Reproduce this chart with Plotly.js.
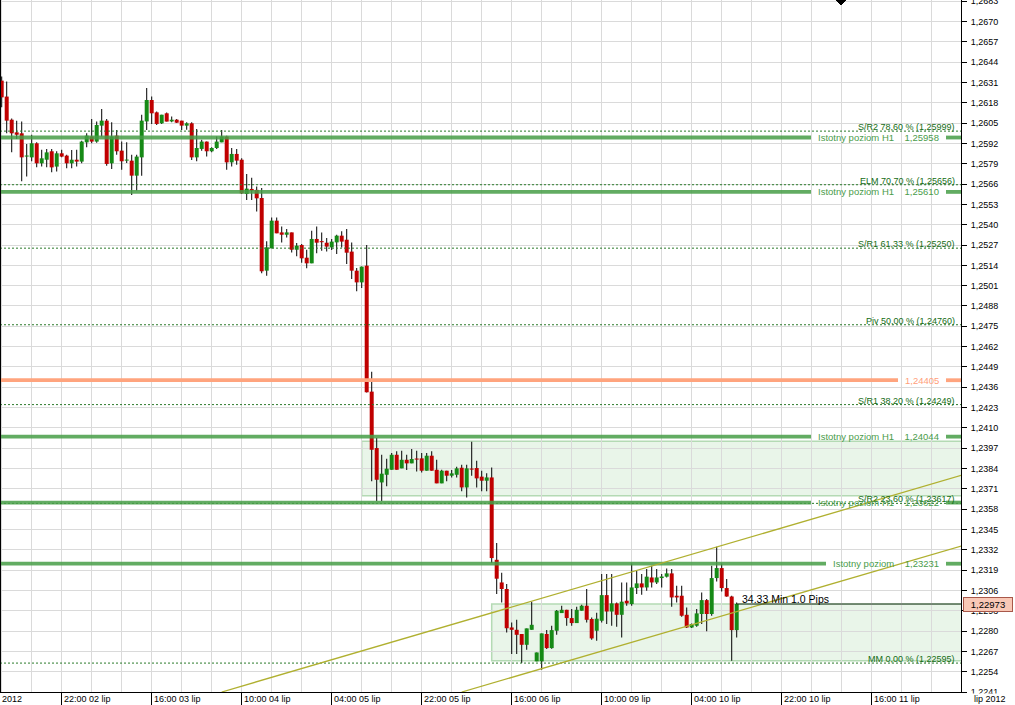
<!DOCTYPE html>
<html><head><meta charset="utf-8">
<script src="https://cdn.plot.ly/plotly-3.0.1.min.js"></script>
<style>html,body{margin:0;padding:0;background:#fff;overflow:hidden}#chart{width:1015px;height:705px}</style>
</head><body><div id="chart"></div>
<script>
// EUR/USD H1 candles (index 0 = 10:00 02 lip)
const opens = [1.26322,1.26220,1.26072,1.25991,1.25985,1.25836,1.25831,1.25921,1.25793,1.25816,1.25870,1.25772,1.25857,1.25842,1.25793,1.25816,1.25804,1.25927,1.25964,1.25932,
1.26034,1.26066,1.25793,1.25970,1.25874,1.25810,1.25810,1.25714,1.25831,1.26061,1.26198,1.26119,1.26049,1.26113,1.26061,1.26072,1.26066,1.26034,1.26049,1.25831,
1.25885,1.25932,1.25870,1.25891,1.25927,1.25964,1.25799,1.25853,1.25816,1.25597,1.25629,1.25623,1.25571,1.25106,1.25249,1.25426,1.25351,1.25336,1.25351,1.25240,
1.25270,1.25189,1.25153,1.25309,1.25292,1.25285,1.25255,1.25287,1.25330,1.25304,1.25228,1.25106,1.25031,1.25138,1.24332,1.23971,1.23751,1.23800,1.23832,1.23928,
1.23841,1.23896,1.23873,1.23901,1.23905,1.23826,1.23922,1.23832,1.23745,1.23826,1.23794,1.23800,1.23845,1.23719,1.23837,1.23843,1.23788,1.23762,1.23783,1.23256,
1.23111,1.23069,1.22823,1.22808,1.22781,1.22712,1.22808,1.22606,1.22606,1.22781,1.22691,1.22802,1.22915,1.22936,1.22883,1.22851,1.22930,1.22962,1.22877,1.22802,
1.22866,1.23030,1.22925,1.22977,1.22904,1.22994,1.22973,1.23075,1.23105,1.23079,1.23143,1.23111,1.23139,1.23148,1.23169,1.23026,1.23026,1.22904,1.22823,1.22834,
1.22909,1.22998,1.22909,1.23139,1.23203,1.23075,1.23021,1.22806];
const highs = [1.26348,1.26316,1.26080,1.26066,1.26060,1.25917,1.25976,1.25927,1.25880,1.25885,1.25885,1.25870,1.25880,1.25848,1.25878,1.25880,1.25938,1.25985,1.26077,1.26060,
1.26141,1.26077,1.26055,1.26006,1.25932,1.25927,1.25848,1.25848,1.26104,1.26275,1.26220,1.26125,1.26104,1.26118,1.26092,1.26077,1.26066,1.26055,1.26055,1.26013,
1.25943,1.25932,1.25895,1.25964,1.26006,1.25970,1.25891,1.25885,1.25825,1.25725,1.25701,1.25644,1.25635,1.25294,1.25447,1.25447,1.25388,1.25373,1.25351,1.25283,
1.25277,1.25240,1.25362,1.25388,1.25351,1.25315,1.25309,1.25336,1.25358,1.25373,1.25287,1.25123,1.25132,1.25271,1.24460,1.24035,1.23928,1.23903,1.23939,1.23950,
1.23954,1.23928,1.23965,1.23954,1.23939,1.23939,1.23950,1.23896,1.23832,1.23826,1.23830,1.23852,1.23864,1.23864,1.24012,1.23890,1.23826,1.23809,1.23847,1.23363,
1.23173,1.23101,1.22855,1.22872,1.22781,1.22817,1.22988,1.22663,1.22785,1.22806,1.22834,1.22934,1.22962,1.22936,1.22941,1.22956,1.22968,1.23069,1.22887,1.22917,
1.23165,1.23165,1.23165,1.22983,1.23111,1.23111,1.23233,1.23186,1.23165,1.23197,1.23218,1.23197,1.23165,1.23201,1.23197,1.23090,1.23090,1.22951,1.22849,1.22941,
1.23047,1.23005,1.23218,1.23340,1.23233,1.23133,1.23026,1.22983];
const lows = [1.26151,1.25985,1.25863,1.25949,1.25678,1.25708,1.25806,1.25767,1.25772,1.25767,1.25735,1.25741,1.25831,1.25761,1.25761,1.25772,1.25793,1.25895,1.25921,1.25925,
1.25964,1.25778,1.25757,1.25848,1.25752,1.25795,1.25590,1.25618,1.25714,1.26006,1.26045,1.26038,1.26045,1.26060,1.26055,1.26051,1.26006,1.26008,1.25814,1.25806,
1.25874,1.25836,1.25863,1.25885,1.25927,1.25751,1.25772,1.25784,1.25596,1.25558,1.25558,1.25484,1.25089,1.25074,1.25249,1.25345,1.25287,1.25319,1.25223,1.25198,
1.25157,1.25121,1.25153,1.25217,1.25234,1.25229,1.25238,1.25213,1.25255,1.25149,1.25053,1.24974,1.24995,1.24327,1.23758,1.23632,1.23632,1.23726,1.23832,1.23832,
1.23841,1.23830,1.23873,1.23821,1.23815,1.23826,1.23826,1.23745,1.23745,1.23758,1.23783,1.23783,1.23694,1.23655,1.23794,1.23719,1.23694,1.23694,1.23235,1.23037,
1.22983,1.22791,1.22653,1.22653,1.22595,1.22680,1.22808,1.22606,1.22552,1.22685,1.22687,1.22776,1.22915,1.22834,1.22834,1.22851,1.22930,1.22855,1.22744,1.22738,
1.22855,1.22845,1.22834,1.22828,1.22759,1.22962,1.22962,1.23037,1.23032,1.23058,1.23079,1.23101,1.23079,1.23143,1.22956,1.22983,1.22892,1.22819,1.22819,1.22828,
1.22845,1.22798,1.22898,1.23117,1.23053,1.23019,1.22610,1.22759];
const closes = [1.26215,1.26066,1.25985,1.25976,1.25831,1.25840,1.25921,1.25793,1.25825,1.25863,1.25767,1.25857,1.25836,1.25793,1.25816,1.25804,1.25932,1.25970,1.25932,1.26038,
1.26066,1.25789,1.25964,1.25870,1.25806,1.25814,1.25714,1.25836,1.26066,1.26198,1.26113,1.26045,1.26104,1.26060,1.26072,1.26053,1.26034,1.26049,1.25831,1.25891,
1.25932,1.25870,1.25891,1.25932,1.25964,1.25799,1.25853,1.25810,1.25601,1.25631,1.25618,1.25569,1.25102,1.25255,1.25426,1.25345,1.25336,1.25351,1.25240,1.25266,
1.25185,1.25153,1.25309,1.25285,1.25288,1.25260,1.25292,1.25330,1.25292,1.25221,1.25106,1.25031,1.25132,1.24328,1.23960,1.23768,1.23807,1.23839,1.23928,1.23832,
1.23896,1.23873,1.23901,1.23897,1.23826,1.23922,1.23826,1.23745,1.23826,1.23794,1.23809,1.23841,1.23719,1.23841,1.23833,1.23777,1.23762,1.23783,1.23267,1.23135,
1.23069,1.22818,1.22808,1.22776,1.22712,1.22817,1.22840,1.22663,1.22785,1.22691,1.22806,1.22930,1.22936,1.22883,1.22851,1.22936,1.22962,1.22872,1.22753,1.22879,
1.23030,1.22925,1.22977,1.22904,1.22988,1.22977,1.23079,1.23105,1.23079,1.23148,1.23111,1.23143,1.23149,1.23169,1.23015,1.23015,1.22898,1.22823,1.22845,1.22913,
1.22998,1.22909,1.23139,1.23203,1.23075,1.23021,1.22806,1.22973];

// time axis labels (candle index -> label)
const xLabelPos  = [12, 30, 48, 66, 84, 102, 120, 138, 156, 174];
const xLabelText = ['22:00 02 lip','16:00 03 lip','10:00 04 lip','04:00 05 lip','22:00 05 lip','16:00 06 lip','10:00 09 lip','04:00 10 lip','22:00 10 lip','16:00 11 lip'];

// Fibonacci levels
const fibNames  = ['S/R2 78,60 %','ELM 70,70 %','S/R1 61,33 %','Piv 50,00 %','S/R1 38,20 %','S/R2 23,60 %','MM 0,00 %'];
const fibLevels = [1.25999, 1.25656, 1.25250, 1.24760, 1.24249, 1.23617, 1.22595];
// key levels
const keyNames  = ['Istotny poziom H1','Istotny poziom H1','Istotny poziom H1','Istotny poziom H1','Istotny poziom'];
const keyLevels = [1.25958, 1.25610, 1.24044, 1.23622, 1.23231];
const pivotLevel = 1.24405;
const lastPrice = 1.22973;
const rangeInfo = '34.33 Min 1.0 Pips';
// consolidation zones: start index, top, bottom
const zoneStart  = [72, 98];
const zoneTop    = [1.24014, 1.22973];
const zoneBottom = [1.23666, 1.22610];
// trend channel: anchor points (index, price)
const chanX = [44, 192];
const chanUpper = [1.2241, 1.23797];
const chanLowerX = [92, 192];
const chanLower = [1.2241, 1.23345];

const fmt = v => v.toFixed(5).replace('.', ',');
const NB = '\u00a0';
const FONT = 'Liberation Sans, Arial, sans-serif';

const idx = opens.map((_, i) => i);
const bodyBase = opens.map((o, i) => Math.min(o, closes[i]));
const bodyH = opens.map((o, i) => Math.max(Math.abs(closes[i] - o), 0.00007));
const bodyCol = opens.map((o, i) => closes[i] >= o ? '#168a16' : '#c00000');

const traces = [
  {type: 'bar', x: idx, base: lows, y: highs.map((h, i) => h - lows[i]), width: 0.2,
   marker: {color: '#000', line: {width: 0}}, hoverinfo: 'skip', showlegend: false},
  {type: 'bar', x: idx, base: bodyBase, y: bodyH, width: 0.8,
   marker: {color: bodyCol, line: {width: 0}}, hoverinfo: 'skip', showlegend: false}
];

const PW = 961; // plot width in px for paper conversions
const shapes = [];
const annotations = [];
const GREEN = 'rgba(70,158,70,0.85)';

zoneStart.forEach((s, k) => {
  shapes.push({type: 'rect', xref: 'x', yref: 'y', x0: s, x1: 200, y0: zoneBottom[k], y1: zoneTop[k],
    fillcolor: 'rgba(212,236,212,0.5)', line: {color: '#b4dab4', width: 1.5}, layer: 'below'});
});

fibLevels.forEach((v, k) => {
  shapes.push({type: 'line', xref: 'paper', yref: 'y', x0: 0, x1: 1, y0: v, y1: v,
    line: {color: '#2a7a2a', width: 1, dash: '2px,2px'}, layer: 'above'});
  annotations.push({xref: 'paper', yref: 'y', x: 957 / PW, y: v, xanchor: 'right', yanchor: 'bottom',
    text: fibNames[k] + ' (' + fmt(v) + ')', showarrow: false, yshift: -3,
    font: {family: FONT, size: 9, color: '#146c14'}});
});

keyLevels.forEach((v, k) => {
  const cut = keyNames[k] === 'Istotny poziom' ? 826 : 811;
  shapes.push({type: 'line', xref: 'paper', yref: 'y', x0: 0, x1: cut / PW, y0: v, y1: v,
    line: {color: GREEN, width: 3.8}, layer: 'above'});
  shapes.push({type: 'line', xref: 'paper', yref: 'y', x0: 946 / PW, x1: 1, y0: v, y1: v,
    line: {color: GREEN, width: 3.8}, layer: 'above'});
  annotations.push({xref: 'paper', yref: 'y', x: 941 / PW, y: v, xanchor: 'right', yanchor: 'middle',
    text: keyNames[k] + NB + NB + NB + NB + fmt(v), showarrow: false,
    font: {family: FONT, size: 9.5, color: '#4a9c4a'}});
});

shapes.push({type: 'line', xref: 'paper', yref: 'y', x0: 0, x1: 898 / PW, y0: pivotLevel, y1: pivotLevel,
  line: {color: '#ffa47e', width: 3.8}, layer: 'above'});
shapes.push({type: 'line', xref: 'paper', yref: 'y', x0: 946 / PW, x1: 1, y0: pivotLevel, y1: pivotLevel,
  line: {color: '#ffa47e', width: 3.8}, layer: 'above'});
annotations.push({xref: 'paper', yref: 'y', x: 941 / PW, y: pivotLevel, xanchor: 'right', yanchor: 'middle',
  text: fmt(pivotLevel), showarrow: false, font: {family: FONT, size: 9.5, color: '#ffa07a'}});

shapes.push({type: 'line', xref: 'x', yref: 'y', x0: chanX[0], x1: chanX[1], y0: chanUpper[0], y1: chanUpper[1],
  line: {color: '#b0b030', width: 1.3}, layer: 'above'});
shapes.push({type: 'line', xref: 'x', yref: 'y', x0: chanLowerX[0], x1: chanLowerX[1], y0: chanLower[0], y1: chanLower[1],
  line: {color: '#b0b030', width: 1.3}, layer: 'above'});

const lastI = opens.length - 1;
shapes.push({type: 'line', xref: 'x', yref: 'y', x0: lastI, x1: 200, y0: lastPrice, y1: lastPrice,
  line: {color: '#1f331f', width: 1}, layer: 'above'});
annotations.push({xref: 'x', yref: 'y', x: lastI + 0.6, y: lastPrice, xanchor: 'left', yanchor: 'bottom',
  text: rangeInfo, showarrow: false, yshift: -3, font: {family: FONT, size: 10.5, color: '#000'}});
annotations.push({xref: 'paper', yref: 'y', x: 963 / PW, y: lastPrice, xanchor: 'left', yanchor: 'middle',
  text: fmt(lastPrice), showarrow: false, bgcolor: '#f9c8b6', bordercolor: '#a8584a', borderwidth: 1,
  borderpad: 1, width: 46, font: {family: FONT, size: 9.5, color: '#000'}});

// left border and top marker
shapes.push({type: 'line', xref: 'paper', yref: 'paper', x0: 0.5 / PW, x1: 0.5 / PW, y0: 0, y1: 1,
  line: {color: '#000', width: 1}});
shapes.push({type: 'path', xref: 'paper', yref: 'paper',
  path: 'M ' + (836 / PW) + ' 1 L ' + (846 / PW) + ' 1 L ' + (841 / PW) + ' ' + (1 - 5 / 692) + ' Z',
  fillcolor: '#000', line: {color: '#000', width: 1}});

// time labels
annotations.push({xref: 'x', yref: 'paper', x: 0, y: 0, xanchor: 'left', yanchor: 'top', xshift: -2,
  text: '2012', showarrow: false, font: {family: FONT, size: 9, color: '#000'}});
xLabelPos.forEach((p, k) => {
  annotations.push({xref: 'x', yref: 'paper', x: p, y: 0, xanchor: 'left', yanchor: 'top', xshift: 0,
    text: xLabelText[k], showarrow: false, font: {family: FONT, size: 9, color: '#000'}});
});
annotations.push({xref: 'paper', yref: 'paper', x: 968 / PW, y: 0, xanchor: 'left', yanchor: 'top', yshift: -1,
  text: NB + NB + 'lip 2012' + NB + NB, showarrow: false, bgcolor: '#fff', borderpad: 0,
  font: {family: FONT, size: 9, color: '#000'}});

const layout = {
  width: 1015, height: 705,
  margin: {l: 0, r: 54, t: 0, b: 13, pad: 0},
  paper_bgcolor: '#fff', plot_bgcolor: '#fff',
  separators: ', ',
  barmode: 'overlay',
  hovermode: false,
  showlegend: false,
  font: {family: FONT, size: 9, color: '#000'},
  xaxis: {
    range: [-0.34, 191.86], tickmode: 'array', tickvals: xLabelPos,
    showticklabels: false, ticks: 'outside', ticklen: 13, tickcolor: '#000', tickwidth: 1,
    showgrid: true, gridcolor: '#dadada', gridwidth: 1, zeroline: false,
    showline: true, linecolor: '#000', linewidth: 1,
    minor: {tick0: 0, dtick: 6, showgrid: true, gridcolor: '#dadada', gridwidth: 1, ticks: ''},
    fixedrange: true
  },
  yaxis: {
    side: 'right', range: [1.2241, 1.26838], tick0: 1.2241, dtick: 0.0013, tickformat: '.4f',
    ticks: 'outside', ticklen: 5, tickcolor: '#000', tickwidth: 1, ticklabelstandoff: 2,
    ticklabeloverflow: 'allow',
    showgrid: true, gridcolor: '#dadada', gridwidth: 1, zeroline: false,
    showline: true, linecolor: '#000', linewidth: 1,
    tickfont: {family: FONT, size: 9, color: '#000'}, fixedrange: true
  },
  shapes: shapes,
  annotations: annotations
};

Plotly.newPlot('chart', traces, layout, {staticPlot: true, displayModeBar: false});
</script>
</body></html>
